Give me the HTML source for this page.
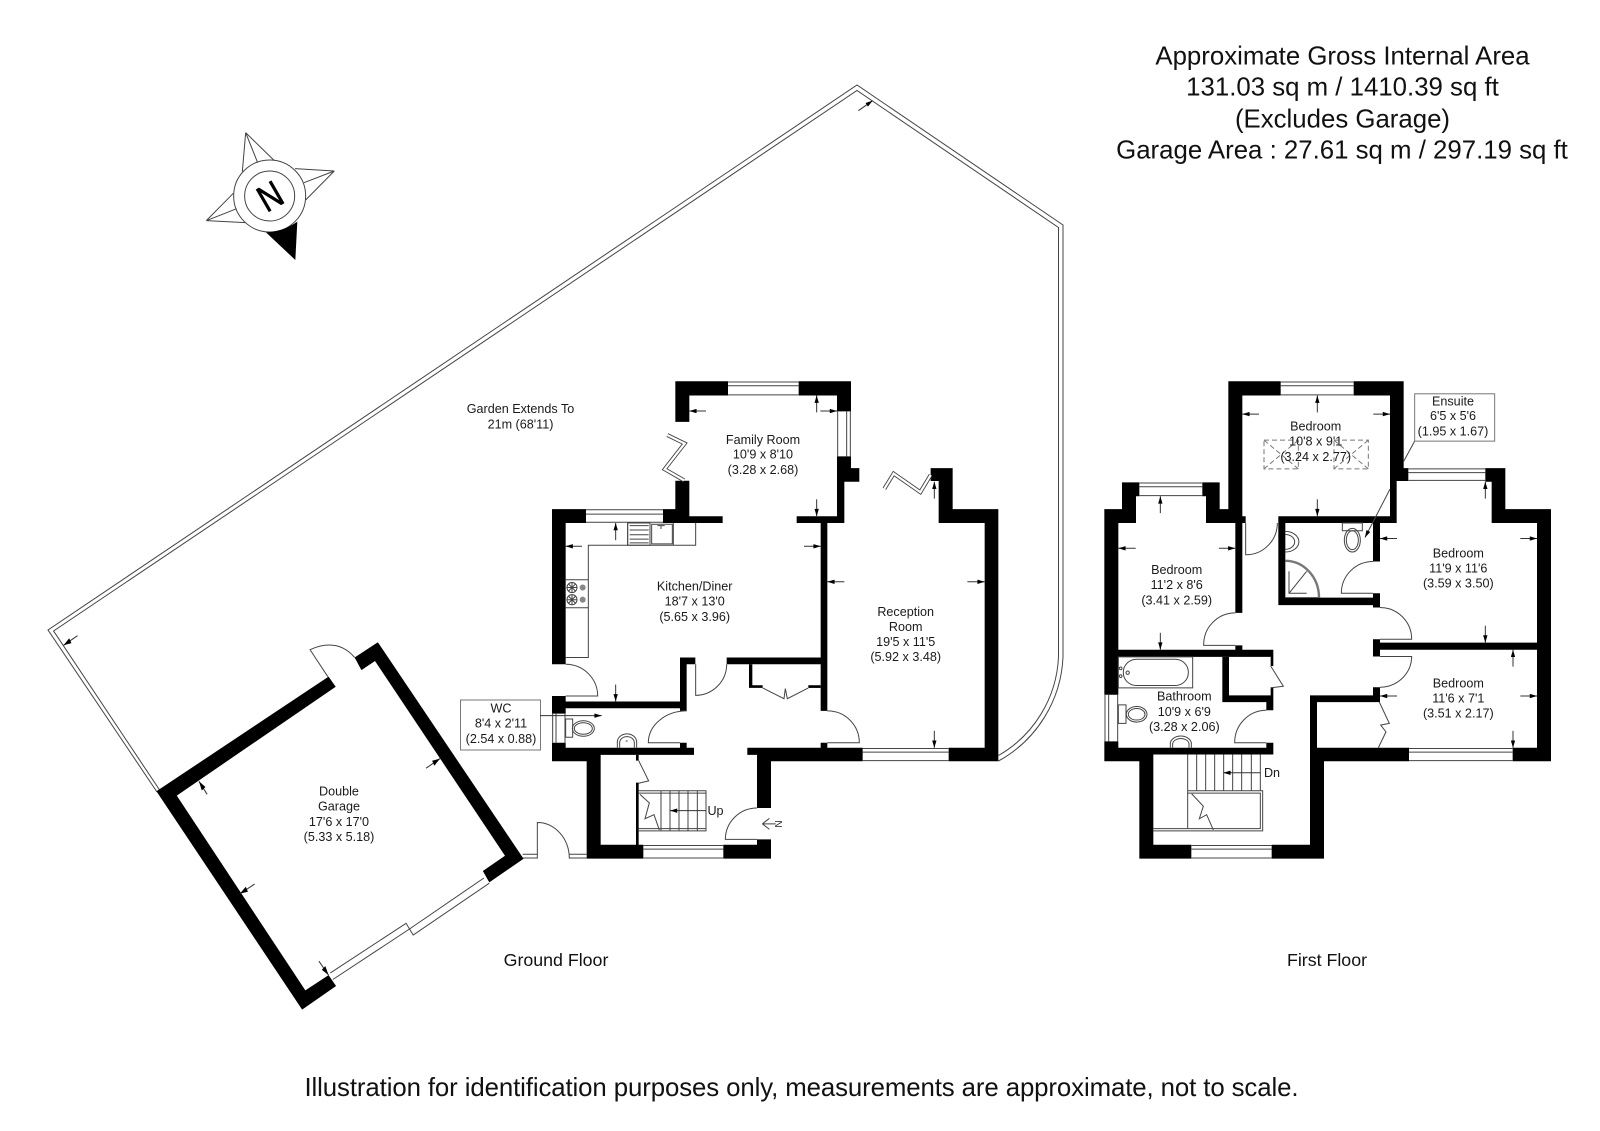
<!DOCTYPE html>
<html><head><meta charset="utf-8"><title>Floor plan</title>
<style>
html,body{margin:0;padding:0;background:#fff}
svg{display:block}
text{font-family:"Liberation Sans",sans-serif;fill:#1a1a1a;text-anchor:middle}
.t{font-size:12.6px}
.h{font-size:25.8px;fill:#111}
.f{font-size:17.8px;fill:#111}
.w{fill:#000;stroke:none}
.l,.l *{fill:none;stroke:#444;stroke-width:1;vector-effect:non-scaling-stroke}
.th,.th *{fill:none;stroke:#777;stroke-width:2.4;vector-effect:non-scaling-stroke}
.a,.a *{fill:none;stroke:#333;stroke-width:1;vector-effect:non-scaling-stroke}
.dsh,.dsh *{fill:none;stroke:#777;stroke-width:1;stroke-dasharray:5 3;vector-effect:non-scaling-stroke}
.d1{fill:none;stroke:#444;stroke-width:4;vector-effect:non-scaling-stroke}
.d2{fill:none;stroke:#fff;stroke-width:2.2;vector-effect:non-scaling-stroke}
</style></head><body>
<svg xmlns="http://www.w3.org/2000/svg" width="1600" height="1131" viewBox="0 0 1600 1131">
<defs>
<marker id="m" viewBox="0 0 10 6" refX="10" refY="3" markerWidth="27" markerHeight="13" orient="auto" markerUnits="userSpaceOnUse"><path d="M0 0L10 3L0 6Z" fill="#000"/></marker>
</defs>
<rect width="1600" height="1131" fill="#fff"/>

<!-- header -->
<text class="h" x="1342.5" y="64.5">Approximate Gross Internal Area</text>
<text class="h" x="1342.5" y="95.5">131.03 sq m / 1410.39 sq ft</text>
<text class="h" x="1342.5" y="127.5">(Excludes Garage)</text>
<text class="h" x="1342" y="158.5">Garage Area : 27.61 sq m / 297.19 sq ft</text>
<text class="h" x="801.5" y="1096" textLength="994" lengthAdjust="spacing">Illustration for identification purposes only, measurements are approximate, not to scale.</text>
<text class="f" x="556" y="966">Ground Floor</text>
<text class="f" x="1331" y="966" dx="-4">First Floor</text>

<!-- compass -->
<g transform="translate(180,110) scale(.3333)">
<g class="l" >
<path d="M197,68L187,185M197,68L233,158M197,68L283,152"/>
<path d="M463,183L345,176M463,183L372,218M463,183L377,270"/>
<path d="M79,332L160,250M79,332L170,296M79,332L196,338"/>
<circle cx="269" cy="258" r="108"/><circle cx="269" cy="258" r="75"/>
</g>
<path d="M352,335Q310,365 258,367L346,450Z" fill="#000"/>
</g>
<text transform="translate(270,196) rotate(-30) scale(.85,1)" y="13" style="font-size:37px;fill:#000;stroke:#000;stroke-width:.7">N</text>

<!-- garden fence -->
<g class="l">
<path d="M157,792L48,630L857,85L1063,225V657A125,125 0 0 1 998.5,761"/>
<path d="M159.6,790L53.6,631L857,90.5L1058.5,227.5V657A120,120 0 0 1 998.5,755.5"/>
</g>
<g transform="translate(800,60) scale(.3333)"><path class="a" d="M175,152L218,122" marker-end="url(#m)"/></g>

<!-- garage -->
<g transform="translate(0,349) scale(.35714,.43573)">
<path class="w" d="M438,1015L920,752L940,775L495,1025L855,1472L920,1437L941,1462L846,1516Z"/>
<path class="w" d="M993,708L1058,673L1466,1170L1370,1224L1352,1198L1414,1163L1050,716L1012,737Z"/>
<g class="l">
<path d="M918,752L868,690Q945,662 993,708"/>
<path d="M925,1432L1137,1318L1157,1345L1370,1226"/>
<path d="M932,1447L1145,1332L1355,1214"/>
</g>
<g class="a">
<path d="M217,658L178,680" marker-end="url(#m)"/>
<path d="M580,1022L557,992" marker-end="url(#m)"/>
<path d="M1193,962L1232,940" marker-end="url(#m)"/>
<path d="M713,1228L672,1250" marker-end="url(#m)"/>
<path d="M893,1405L920,1437" marker-end="url(#m)"/>
</g>
</g>
<text class="t" x="339" y="795.5">Double</text>
<text class="t" x="339" y="810.7">Garage</text>
<text class="t" x="339" y="826">17'6 x 17'0</text>
<text class="t" x="339" y="841">(5.33 x 5.18)</text>
<text class="t" x="520.5" y="413">Garden Extends To</text>
<text class="t" x="520.5" y="428.7">21m (68'11)</text>
<rect x="460.5" y="700" width="80" height="50" fill="#fff" stroke="#777" stroke-width="1"/>
<text class="t" x="501" y="712.3">WC</text>
<text class="t" x="501" y="727.5">8'4 x 2'11</text>
<text class="t" x="501" y="743">(2.54 x 0.88)</text>

<!-- ground floor -->
<g transform="translate(530,360) scale(.33333,.33807)">
<g class="w">
<path d="M436,63H594V105H478V183H436Z"/>
<path d="M806,63H963V152H921V105H806Z"/>
<path d="M921,285H963V320H988V360H943V482H800V462H921Z"/>
<path d="M66,441H168V482H107V900H66Z"/>
<path d="M399,441H436V357H478V462H578V482H399Z"/>
<path d="M872,482H892V1038H872V900H590V880H872Z"/>
<path d="M657,900H667V962H698V970H657Z"/>
<path d="M835,962H872V970H835Z"/>
<path d="M450,880H496V900H470V1038H450V1030H107V1046H66V994H107V1010H450Z"/>
<path d="M66,1132H107V1147H450V1132H470V1147H492V1168H212V1434H318V1250H326V1434H340V1475H170V1187H66Z"/>
<path d="M318,1168H326V1185H318Z"/>
<path d="M580,1434H681V1418H723V1475H580Z"/>
<path d="M652,1147H872V1132H892V1147H998V1187H723V1325H681V1168H652Z"/>
<path d="M1202,320H1268V441H1405V1187H1256V1147H1364V482H1226V358H1202Z"/>
</g>
<g class="l">
<!-- windows -->
<path d="M594,65H806M594,76H806M594,103H806"/>
<path d="M923,152V285M950,152V285M961,152V285"/>
<path d="M168,443H399M168,456H399M168,480H399"/>
<path d="M998,1149H1256M998,1160H1256M998,1185H1256"/>
<path d="M340,1436H580M340,1447H580M340,1473H580"/>
<path d="M68,1046V1132M78,1046V1132M105,1046V1132"/>
<!-- kitchen units -->
<path d="M107,880H175V548H497V482"/>
<path d="M107,650H175M107,733H175"/>
<rect x="293" y="482" width="67" height="66"/>
<path d="M299,490H356M299,503H356M299,517H356M299,530H356M299,541H356"/>
<rect x="365" y="486" width="62" height="58"/>
<path d="M430,482V548M293,482V548" />
<path d="M382,490H404M393,490V500"/>
<!-- hob -->
<circle cx="126" cy="673" r="15"/><circle cx="126" cy="709" r="15"/>
<path d="M111,673H141M126,658V688M115,662L137,684M137,662L115,684M111,709H141M126,694V724M115,698L137,720M137,698L115,720"/>
<!-- doors -->
<path d="M107,900A96,94 0 0 1 203,994H107"/>
<path d="M497,900V992A94,92 0 0 0 590,900"/>
<path d="M470,1038A115,94 0 0 0 355,1132H450"/>
<path d="M892,1038A95,94 0 0 1 988,1132H892"/>
<path d="M698,970L762,1002L766,972L772,1002L835,970"/>
<path d="M326,1185L356,1245L326,1252"/>
<path d="M681,1325A95,94 0 0 0 586,1418H681"/>
<path d="M22,1475V1368A96,107 0 0 1 118,1475"/>
<path d="M118,1462H170M118,1473H170"/>
<path d="M-22,1462H22M-22,1473H22"/>
<!-- stairs -->
<path d="M326,1274H528V1393H326M326,1281H528M326,1386H528"/>
<path d="M393,1274V1393M420,1274V1393M447,1274V1393M474,1274V1393M502,1274V1393"/>
<path d="M330,1285L358,1310L345,1357L372,1345L388,1390"/>
<!-- toilet -->
<rect x="107" y="1062" width="21" height="54"/>
<ellipse cx="160" cy="1090" rx="33" ry="23"/><ellipse cx="160" cy="1090" rx="27" ry="17"/>
<path d="M262,1147V1130A29,24 0 0 1 320,1130V1147"/>
<path d="M269,1147V1132A22,18 0 0 1 313,1132V1147"/>
<path d="M287,1127H293"/>
<path d="M697,1372L718,1356M697,1372L718,1388M697,1372H737"/>
</g>
<circle cx="158" cy="673" r="9" fill="#888"/><circle cx="158" cy="709" r="9" fill="#888"/>
<path class="d1" d="M412,222L464,247L404,323L462,356"/>
<path class="d2" d="M412,222L464,247L404,323L462,356"/>
<path class="d1" d="M1063,381L1091,336L1171,391L1202,340"/>
<path class="d2" d="M1063,381L1091,336L1171,391L1202,340"/>
<g class="a">
<path d="M528,151H478" marker-end="url(#m)"/>
<path d="M860,155V105" marker-end="url(#m)"/>
<path d="M871,151H921" marker-end="url(#m)"/>
<path d="M860,412V462" marker-end="url(#m)"/>
<path d="M156,551H107" marker-end="url(#m)"/>
<path d="M257,533V482" marker-end="url(#m)"/>
<path d="M822,551H872" marker-end="url(#m)"/>
<path d="M257,960V1010" marker-end="url(#m)"/>
<path d="M943,656H892" marker-end="url(#m)"/>
<path d="M1312,656H1364" marker-end="url(#m)"/>
<path d="M1213,1097V1147" marker-end="url(#m)"/>
<path d="M1213,410V360" marker-end="url(#m)"/>
<path d="M30,1052H215" marker-end="url(#m)"/>
<path d="M528,1333H420" marker-end="url(#m)"/>
</g>
</g>
<text class="t" x="763" y="443.8">Family Room</text>
<text class="t" x="763" y="458.7">10'9 x 8'10</text>
<text class="t" x="763" y="473.9">(3.28 x 2.68)</text>
<text class="t" x="694.7" y="590.5">Kitchen/Diner</text>
<text class="t" x="694.7" y="605.7">18'7 x 13'0</text>
<text class="t" x="694.7" y="621">(5.65 x 3.96)</text>
<text class="t" x="905.7" y="615.9">Reception</text>
<text class="t" x="905.7" y="631">Room</text>
<text class="t" x="905.7" y="646">19'5 x 11'5</text>
<text class="t" x="905.7" y="661.2">(5.92 x 3.48)</text>
<text class="t" x="715.5" y="815">Up</text>
<text transform="translate(782,824) rotate(-90)" style="font-size:10px">N</text>

<!-- first floor -->
<g transform="translate(1090,360) scale(.33333,.33807)">
<g class="w">
<path d="M791,63H941V320H955V358H920V482H870V596H849V482H586V703H849V690H870V732H849V725H565V462H900V105H791Z"/>
<path d="M415,63H572V105H457V462H467V482H457V748H436V482H348V403H337V362H389V441H415Z"/>
<path d="M96,362H148V403H138V482H85V857H436V844H457V857H550V905H542V878H85V990H43V441H96Z"/>
<path d="M397,878H417V992H542V968H550V1036H529V1012H397Z"/>
<path d="M43,1128H85V1147H529V1132H550V1167H190V1434H304V1475H148V1187H43Z"/>
<path d="M545,1434H660V992H849V968H870V1012H681V1147H957V1187H702V1475H545Z"/>
<path d="M1268,1147H1341V482H1205V360H1186V320H1246V441H1383V1187H1268Z"/>
<path d="M849,826H870V836H1341V857H870V877H849Z"/>
</g>
<g class="l">
<path d="M572,65H791M572,76H791M572,103H791"/>
<path d="M955,322H1186M955,333H1186M955,356H1186"/>
<path d="M148,364H337M148,375H337M148,401H337"/>
<path d="M957,1149H1268M957,1160H1268M957,1185H1268"/>
<path d="M304,1436H545M304,1447H545M304,1473H545"/>
<path d="M45,990V1128M56,990V1128M83,990V1128"/>
<path d="M467,482V576A94,94 0 0 0 562,482"/>
<path d="M849,596A95,94 0 0 0 754,690H849"/>
<path d="M870,732A95,94 0 0 1 965,826H870"/>
<path d="M870,877H965A95,92 0 0 1 870,968"/>
<path d="M436,748A95,94 0 0 0 341,844H436"/>
<path d="M529,1036A95,96 0 0 0 434,1132H529"/>
<path d="M542,905L580,965L542,970"/>
<path d="M868,1012L898,1075L872,1080L888,1100L865,1147"/>
<rect x="85" y="878" width="223" height="92"/>
<rect x="100" y="885" width="195" height="78" rx="40" ry="38"/>
<circle cx="92" cy="912" r="4"/><circle cx="92" cy="935" r="4"/><circle cx="113" cy="925" r="5"/>
<rect x="85" y="1020" width="23" height="55"/>
<ellipse cx="140" cy="1048" rx="31" ry="23"/><ellipse cx="140" cy="1048" rx="25" ry="17"/>
<path d="M241,1147V1132A32,24 0 0 1 304,1132V1147"/>
<path d="M248,1147V1134A25,18 0 0 1 297,1134V1147"/>
<rect x="757" y="482" width="60" height="23"/>
<ellipse cx="787" cy="533" rx="24" ry="35"/><ellipse cx="787" cy="533" rx="18" ry="28"/>
<path d="M586,507A40,30 0 0 1 586,568"/>
<path d="M586,516A28,22 0 0 1 586,560"/>
<path d="M597,625V690H650M597,690L650,625"/>
<path d="M586,703H687"/>
<path d="M293,1167V1274M320,1167V1274M347,1167V1274M374,1167V1274M401,1167V1274M428,1167V1274M455,1167V1274M484,1167V1274M511,1167V1274"/>
<path d="M293,1274H518V1393H190M293,1281H511V1386H190M293,1274V1386"/>
<path d="M305,1283L340,1320L328,1357L350,1345L370,1390"/>
<path d="M975,238L941,300"/>
<path d="M900,382L825,525" marker-end="url(#m)"/>
</g>
<path class="th" d="M586,594A101,109 0 0 1 687,703"/>
<rect x="974" y="100" width="240" height="140" fill="#fff" stroke="#777" stroke-width="3"/>
<g class="dsh">
<rect x="522" y="237" width="103" height="85"/>
<rect x="732" y="237" width="103" height="85"/>
<path d="M522,237L625,322M625,237L522,322M732,237L835,322M835,237L732,322"/>
</g>
<g class="a">
<path d="M507,160H457" marker-end="url(#m)"/>
<path d="M682,155V105" marker-end="url(#m)"/>
<path d="M850,160H900" marker-end="url(#m)"/>
<path d="M682,412V462" marker-end="url(#m)"/>
<path d="M137,557H85" marker-end="url(#m)"/>
<path d="M387,557H436" marker-end="url(#m)"/>
<path d="M211,453V403" marker-end="url(#m)"/>
<path d="M211,807V857" marker-end="url(#m)"/>
<path d="M921,528H870" marker-end="url(#m)"/>
<path d="M1291,528H1341" marker-end="url(#m)"/>
<path d="M1186,410V360" marker-end="url(#m)"/>
<path d="M1186,786V836" marker-end="url(#m)"/>
<path d="M1269,907V857" marker-end="url(#m)"/>
<path d="M921,994H870" marker-end="url(#m)"/>
<path d="M1291,994H1341" marker-end="url(#m)"/>
<path d="M1269,1097V1147" marker-end="url(#m)"/>
<path d="M510,1221H400" marker-end="url(#m)"/>
</g>
</g>
<text class="t" x="1453" y="405.3">Ensuite</text>
<text class="t" x="1453" y="420.2">6'5 x 5'6</text>
<text class="t" x="1453" y="435.4">(1.95 x 1.67)</text>
<text class="t" x="1315.7" y="430.3">Bedroom</text>
<text class="t" x="1315.7" y="445.5">10'8 x 9'1</text>
<text class="t" x="1315.7" y="461">(3.24 x 2.77)</text>
<text class="t" x="1176.7" y="574">Bedroom</text>
<text class="t" x="1176.7" y="589.2">11'2 x 8'6</text>
<text class="t" x="1176.7" y="604.4">(3.41 x 2.59)</text>
<text class="t" x="1458.3" y="557.4">Bedroom</text>
<text class="t" x="1458.3" y="572.3">11'9 x 11'6</text>
<text class="t" x="1458.3" y="587.5">(3.59 x 3.50)</text>
<text class="t" x="1458.3" y="687.5">Bedroom</text>
<text class="t" x="1458.3" y="702.4">11'6 x 7'1</text>
<text class="t" x="1458.3" y="717.6">(3.51 x 2.17)</text>
<text class="t" x="1184.3" y="700.7">Bathroom</text>
<text class="t" x="1184.3" y="715.9">10'9 x 6'9</text>
<text class="t" x="1184.3" y="731">(3.28 x 2.06)</text>
<text class="t" x="1272" y="777">Dn</text>
</svg>
</body></html>
